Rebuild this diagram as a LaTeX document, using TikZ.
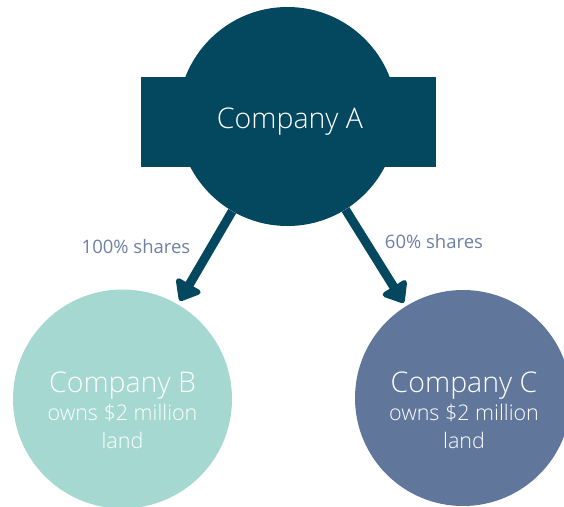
\documentclass[tikz,border=0pt]{standalone}
\usepackage{fontspec}
\setmainfont{Open Sans}
\newfontfamily\lightfont{Open Sans Light}
\usetikzlibrary{arrows.meta}
\definecolor{darkteal}{HTML}{03485F}
\definecolor{mint}{HTML}{A5D8D0}
\definecolor{slate}{HTML}{60769B}
\definecolor{labelblue}{HTML}{6F80A3}
\tikzset{
  company/.style={circle, inner sep=0pt, minimum size=#1, draw=none},
  titletext/.style={anchor=base, text=white, font=\lightfont\fontsize{28.5}{30}\selectfont, inner sep=0pt},
  subtext/.style={anchor=base, text=white, font=\lightfont\fontsize{21.5}{26}\selectfont, inner sep=0pt},
  sharelabel/.style={anchor=center, text=labelblue, font=\fontsize{18.5}{22}\selectfont, inner sep=0pt},
  owns/.style={draw=darkteal, line width=9pt, shorten >=4pt,
    -{Triangle[width=32pt,length=21pt,round]}},
}
\begin{document}
\begin{tikzpicture}[x=1pt,y=-1pt]
\useasboundingbox (0,0) rectangle (564,506);
\begin{scope}
\clip (0,0) rectangle (564,506);
% Company B and C circles
\node[company=219pt, fill=mint] (B) at (122.5,399) {};
\node[company=216pt, fill=slate] (C) at (463,398) {};
\end{scope}
% Company A: circle plus bar
\fill[darkteal] (141,77) rectangle (436,167);
\node[company=219pt, fill=darkteal] (A) at (287.5,116.5) {};
% arrows
\draw[owns] (A) -- (B);
\draw[owns] (A) -- (C);
% texts
\node[titletext] (tA) at (290,128) {Company A};
\node[titletext] (tB) at (122.5,392) {Company B};
\node[subtext] (sB1) at (122.5,420) {owns \$2 million};
\node[subtext] (sB2) at (122.5,448) {land};
\node[titletext] (tC) at (464,392) {Company C};
\node[subtext] (sC1) at (464,420) {owns \$2 million};
\node[subtext] (sC2) at (464,448) {land};
\node[sharelabel] (lB) at (136,247) {100\% shares};
\node[sharelabel] (lC) at (434,242) {60\% shares};
\end{tikzpicture}
\end{document}
